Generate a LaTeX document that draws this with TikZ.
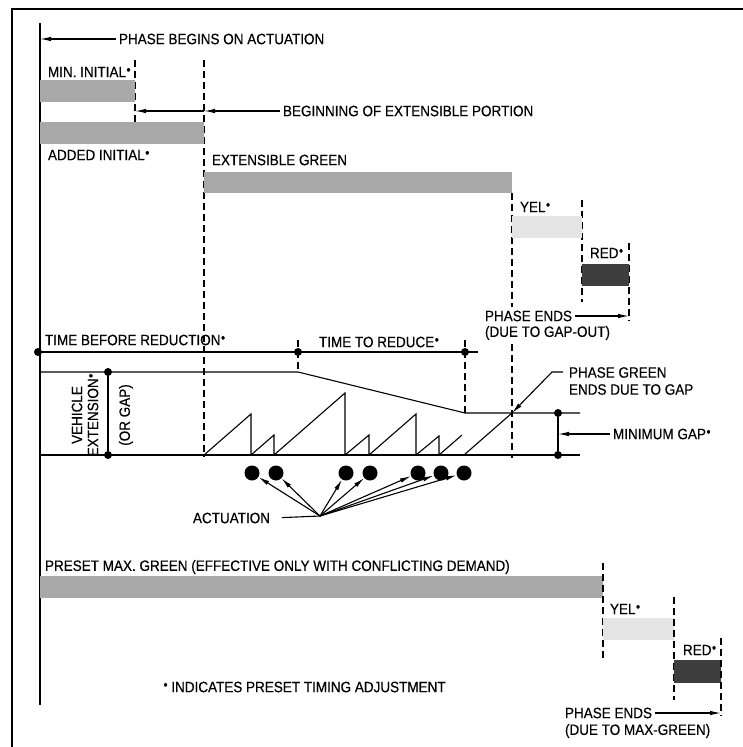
\documentclass[tikz,border=0pt]{standalone}
\usepackage{fontspec}
\setmainfont{Liberation Sans}[FakeStretch=0.9, FakeBold=0.4]
\usetikzlibrary{arrows.meta}
\definecolor{barg}{RGB}{168,168,168}
\definecolor{yelg}{RGB}{228,228,228}
\definecolor{redg}{RGB}{62,62,62}
\newcommand{\pd}{\kern0.5pt\raisebox{3pt}{\fontsize{13}{13}\selectfont •}}
\begin{document}
\begin{tikzpicture}[x=1pt,y=-1pt,
  lbl/.style={font=\fontsize{15}{17}\selectfont, inner sep=0pt, outer sep=3pt, anchor=west, align=left},
  ln/.style={line width=1.1pt},
  dsh/.style={line width=1.1pt, dash pattern=on 7pt off 4pt},
  arr/.style={line width=1.1pt, -{Latex[length=11pt,width=4.5pt]}},
  bigdot/.style={circle, fill=black, inner sep=0pt, minimum size=15pt},
  smdot/.style={circle, fill=black, inner sep=0pt, minimum size=8pt}
]
\fill[white] (0,0) rectangle (742,747);
\useasboundingbox (0,0) rectangle (742,747);
% border
\coordinate (bBL) at (12,760); \coordinate (bTL) at (12,9); \coordinate (bTR) at (760,9);
\draw[line width=1.3pt] (bBL) -- (bTL) -- (bTR);
% main vertical
\coordinate (m0) at (40,23); \coordinate (m1) at (40,705);
\draw[ln] (m0) -- (m1);

% ---------- top part ----------
\node[lbl] (tPB) at (116,39) {PHASE BEGINS ON ACTUATION};
\coordinate (pb) at (40,39);
\draw[arr] (tPB) -- (pb);

\node[lbl] (tMI) at (45,72) {MIN.\ INITIAL\pd};
\coordinate (d1a) at (135,60); \coordinate (d1b) at (135,122);
\draw[dsh] (d1a) -- (d1b);
\fill[barg] (40,80) rectangle (135,102);

\coordinate (d2a) at (204,60); \coordinate (d2b) at (204,457);
\draw[dsh] (d2a) -- (d2b);
\node[lbl] (tBE) at (280,111) {BEGINNING OF EXTENSIBLE PORTION};
\coordinate (bx1) at (204,111); \coordinate (bx0) at (135,111);
\draw[arr] (tBE) -- (bx1);
\draw[arr] (bx1) -- (bx0);

\fill[barg] (40,122) rectangle (204,144);
\node[lbl] (tAI) at (45,155) {ADDED INITIAL\pd};

\node[lbl] (tEG) at (209,160) {EXTENSIBLE GREEN};
\fill[barg] (204,172) rectangle (512,193);
\coordinate (d3a) at (512,193); \coordinate (d3b) at (512,307);
\coordinate (d3c) at (512,344); \coordinate (d3d) at (512,458);
\draw[dsh] (d3a) -- (d3b);
\draw[dsh] (d3c) -- (d3d);

\node[lbl] (tY1) at (517,207) {YEL\pd};
\coordinate (d4a) at (582,200); \coordinate (d4b) at (582,302);
\draw[dsh] (d4a) -- (d4b);
\fill[yelg] (512,216) rectangle (582,238);

\node[lbl] (tR1) at (587,253) {RED\pd};
\coordinate (d5a) at (629,243); \coordinate (d5b) at (629,321);
\draw[dsh] (d5a) -- (d5b);
\fill[redg] (582,264) rectangle (629,286);

\node[lbl] (tPE1) at (482,316) {PHASE ENDS};
\node[lbl] (tPE2) at (482,333) {(DUE TO GAP-OUT)};
\coordinate (pe1) at (629,316);
\draw[arr] (tPE1) -- (pe1);

% ---------- middle part ----------
\node[lbl] (tTB) at (42,340) {TIME BEFORE REDUCTION\pd};
\node[lbl] (tTR) at (316,342) {TIME TO REDUCE\pd};
\coordinate (r0) at (38,352); \coordinate (r3) at (478,352);
\draw[ln] (r0) -- (r3);
\node[smdot] (rd1) at (38,352) {};
\node[smdot] (rd2) at (298,352) {};
\node[smdot] (rd3) at (465,352) {};
\coordinate (d6a) at (298,340); \coordinate (d6b) at (298,372);
\draw[dsh] (d6a) -- (d6b);
\coordinate (d7a) at (465,340); \coordinate (d7b) at (465,413);
\draw[dsh] (d7a) -- (d7b);

\coordinate (g0) at (40,372); \coordinate (g1) at (298,372);
\coordinate (g2) at (465,413); \coordinate (g3) at (580,413);
\draw[ln] (g0) -- (g1) -- (g2) -- (g3);
\coordinate (b0) at (40,455); \coordinate (b1) at (580,455);
\draw[ln] (b0) -- (b1);

% vehicle extension
\node[smdot] (ve1) at (108,372) {};
\node[smdot] (ve2) at (108,455) {};
\draw[ln] (ve1) -- (ve2);
\node[lbl, anchor=center, rotate=90, align=center, font=\fontsize{15}{16}\selectfont] (tVE) at (85,415) {VEHICLE\\EXTENSION\pd};
\node[lbl, anchor=center, rotate=90] (tOG) at (126,415) {(OR GAP)};

% minimum gap
\node[smdot] (mg1) at (558,413) {};
\node[smdot] (mg2) at (558,455) {};
\draw[ln] (mg1) -- (mg2);
\node[lbl] (tMG) at (610,434) {MINIMUM GAP\pd};
\coordinate (mga) at (558,434);
\draw[arr] (tMG) -- (mga);

% sawtooth
\draw[ln] (204,455) -- (251,414) -- (251,455) -- (274,435) -- (274,455)
  -- (345,393) -- (345,455) -- (369,435) -- (369,455) -- (416,414)
  -- (416,455) -- (439,436) -- (439,455) -- (462,435);
\coordinate (s8a) at (464,455); \coordinate (s8b) at (512,413);
\draw[ln] (s8a) -- (s8b);

% phase green ends
\node[lbl] (tPG) at (566,381) {PHASE GREEN\\ENDS DUE TO GAP};
\coordinate (pg1) at (563,372); \coordinate (pg2) at (552,372);
\draw[arr] (pg1) -- (pg2) -- (s8b);

% actuation
\foreach \i/\x in {1/252,2/276,3/346,4/370,5/418,6/441,7/464}{
  \node[bigdot] (a\i) at (\x,473) {};
}
\node[lbl] (tAC) at (190,518) {ACTUATION};
\coordinate (ac) at (320,516);
\draw[ln, shorten <=9pt] (tAC.east) -- (ac);
\foreach \i in {1,...,7}{
  \draw[arr] (ac) -- (a\i);
}

% ---------- bottom part ----------
\node[lbl] (tPM) at (42,567) {PRESET MAX.\ GREEN (EFFECTIVE ONLY WITH CONFLICTING DEMAND)};
\fill[barg] (40,576) rectangle (603,598);
\coordinate (d8a) at (603,563); \coordinate (d8b) at (603,658);
\draw[dsh] (d8a) -- (d8b);
\node[lbl] (tY2) at (607,609) {YEL\pd};
\fill[yelg] (603,618) rectangle (674,640);
\coordinate (d9a) at (674,597); \coordinate (d9b) at (674,700);
\draw[dsh] (d9a) -- (d9b);
\node[lbl] (tR2) at (680,650) {RED\pd};
\fill[redg] (674,660) rectangle (721,683);
\coordinate (d10a) at (721,638); \coordinate (d10b) at (721,716);
\draw[dsh] (d10a) -- (d10b);

\node[lbl] (tPE3) at (562,713) {PHASE ENDS};
\node[lbl] (tPE4) at (562,731) {(DUE TO MAX-GREEN)};
\coordinate (pe2) at (721,713);
\draw[arr] (tPE3) -- (pe2);

\node[lbl] (tIN) at (160,687) {\pd\ INDICATES PRESET TIMING ADJUSTMENT};
\end{tikzpicture}
\end{document}
